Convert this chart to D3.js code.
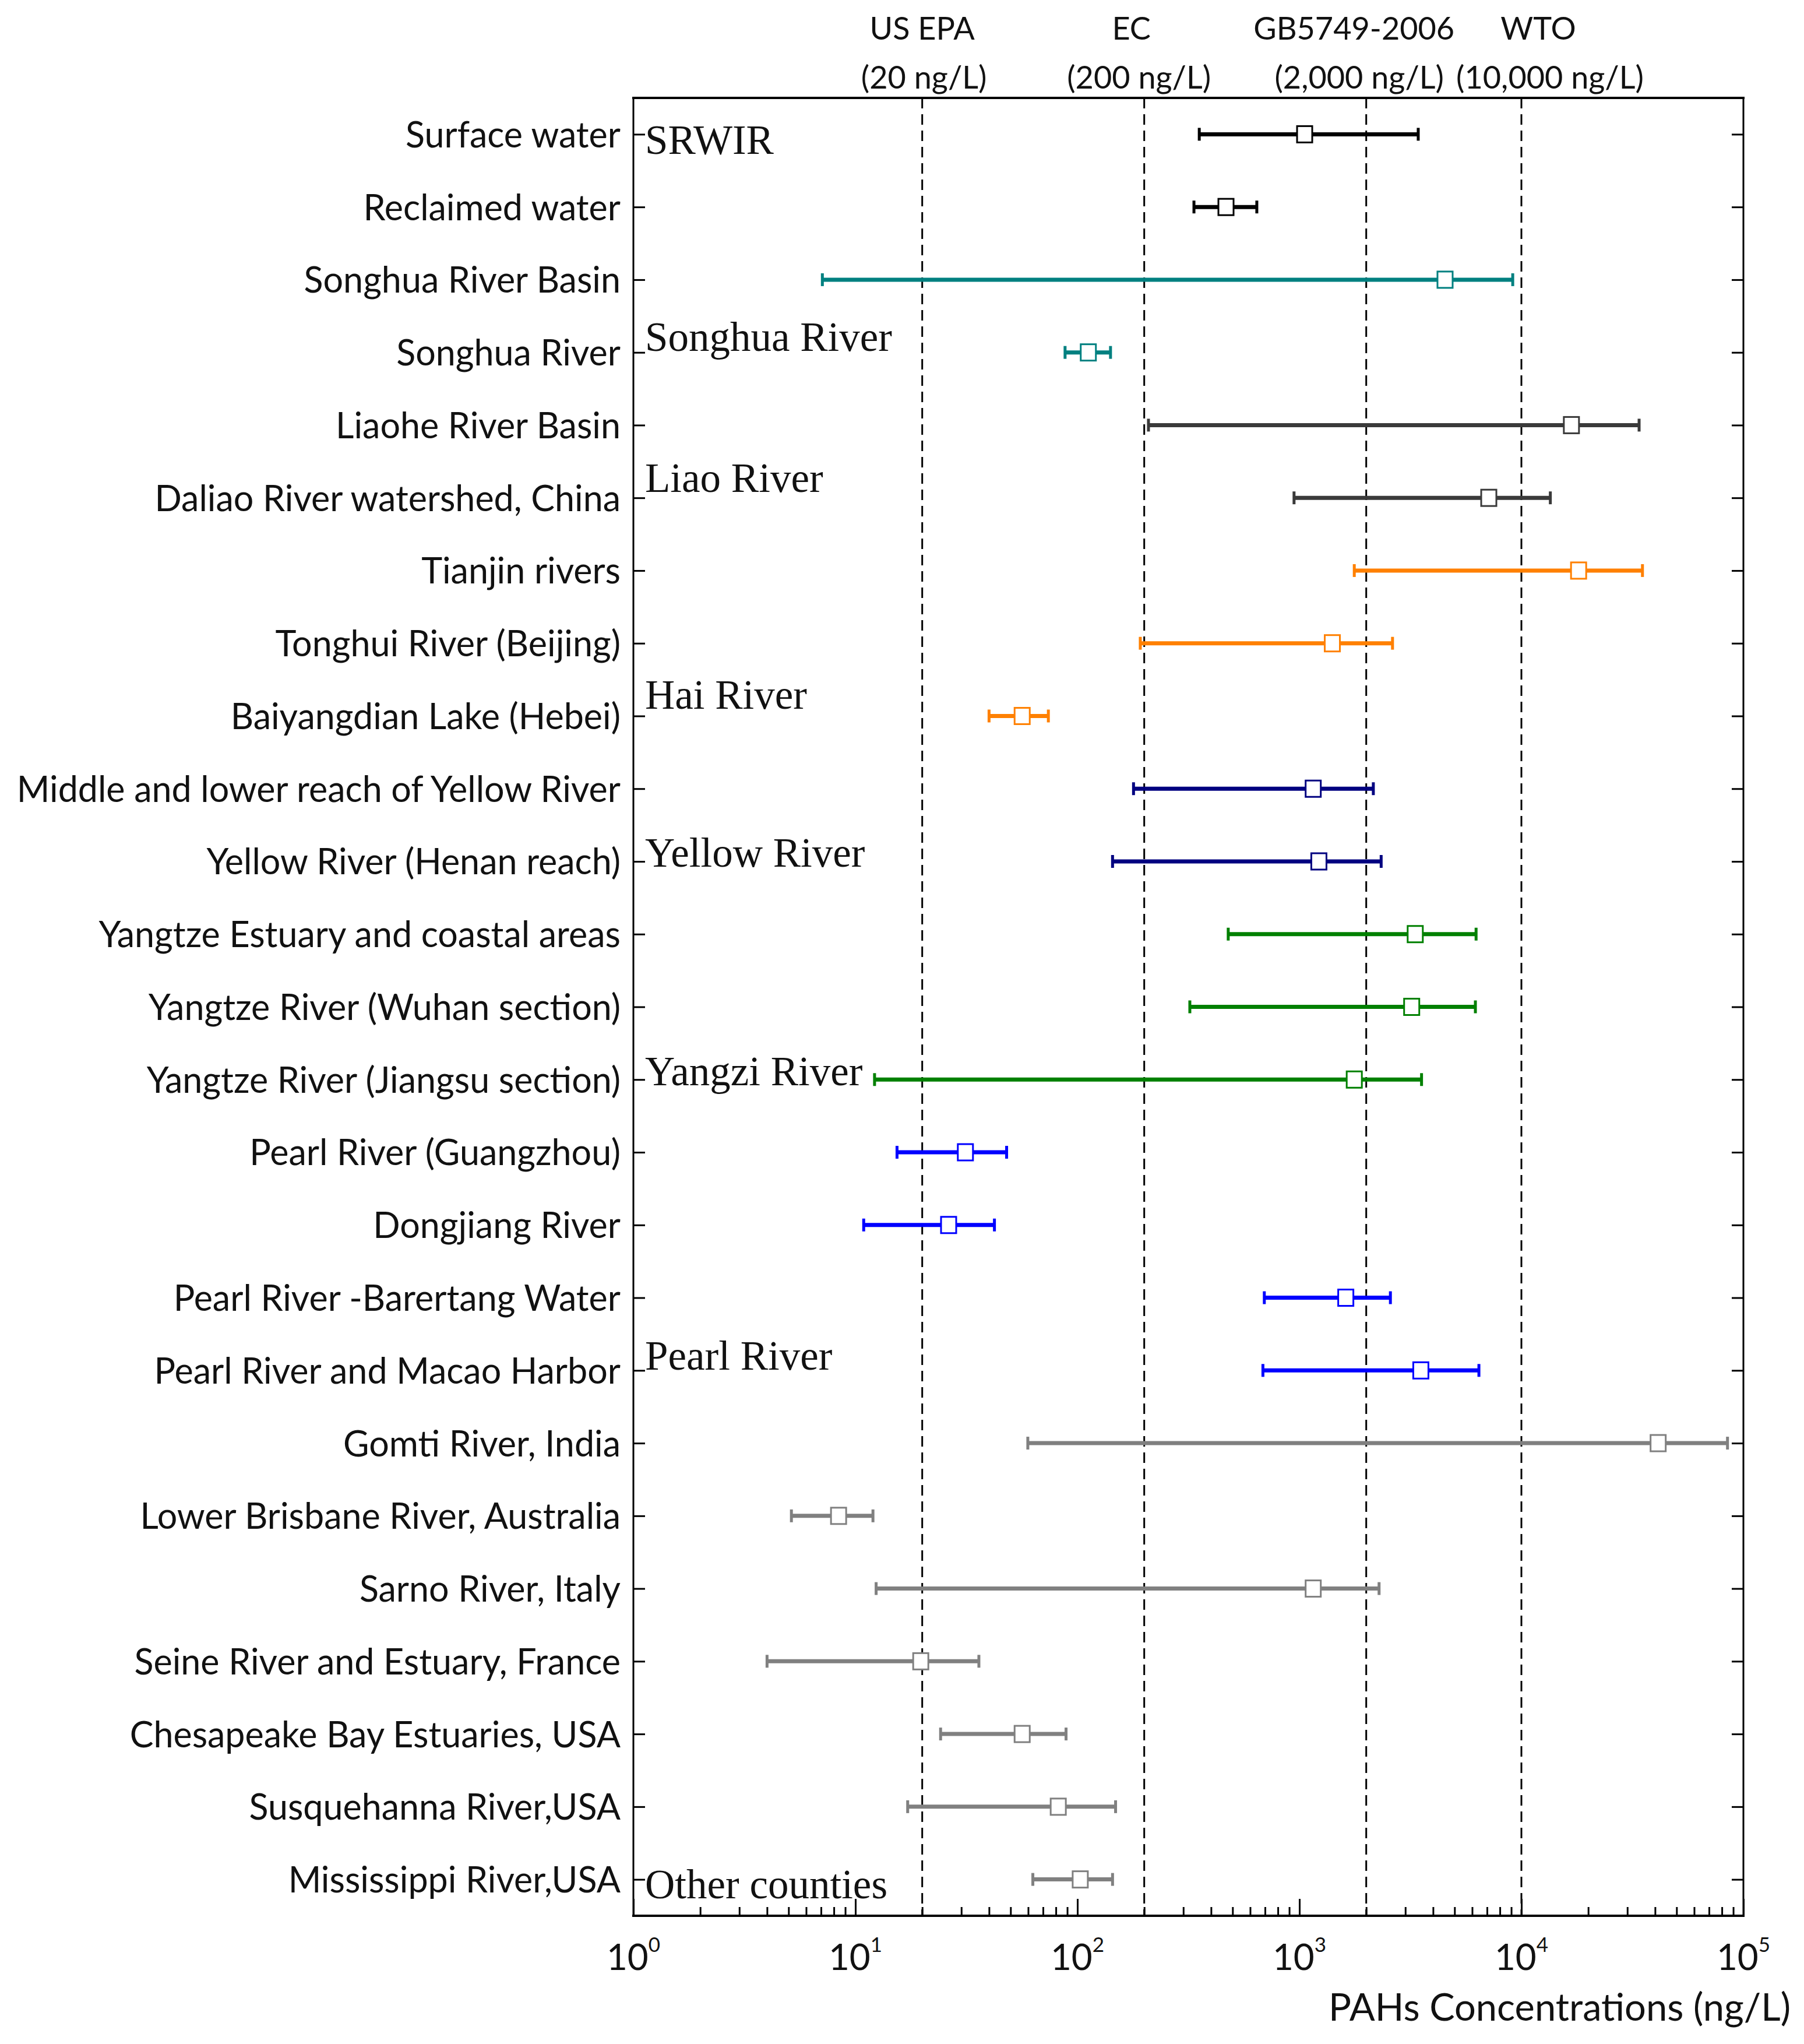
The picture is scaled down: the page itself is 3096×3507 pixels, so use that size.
<!DOCTYPE html>
<html>
<head>
<meta charset="utf-8">
<script src="https://cdn.jsdelivr.net/npm/d3@7"></script>
<style>
  html, body { margin: 0; padding: 0; background: #ffffff; }
  svg { display: block; }
</style>
</head>
<body>
<svg id="chart" width="3096" height="3507"></svg>
<script>
// ---------------- DATA ----------------
const categories = [
  "Surface water", "Reclaimed water",
  "Songhua River Basin", "Songhua River",
  "Liaohe River Basin", "Daliao River watershed, China",
  "Tianjin rivers", "Tonghui River (Beijing)", "Baiyangdian Lake (Hebei)",
  "Middle and lower reach of Yellow River", "Yellow River (Henan reach)",
  "Yangtze Estuary and coastal areas", "Yangtze River (Wuhan section)", "Yangtze River (Jiangsu section)",
  "Pearl River (Guangzhou)", "Dongjiang River", "Pearl River -Barertang Water", "Pearl River and Macao Harbor",
  "Gomti River, India", "Lower Brisbane River, Australia", "Sarno River, Italy",
  "Seine River and Estuary, France", "Chesapeake Bay Estuaries, USA", "Susquehanna River,USA",
  "Mississippi River,USA"
];
const minValues  = [354, 335, 7.1, 88, 209, 946, 1767, 192, 40, 179, 144, 478, 321, 12.2, 15.4, 10.9, 695, 685, 59.8, 5.15, 12.4, 4.0, 24.2, 17.2, 63];
const meanValues = [1056, 467, 4530, 112, 16800, 7130, 18100, 1407, 56.4, 1154, 1224, 3325, 3205, 1767, 31.3, 26.3, 1618, 3524, 41300, 8.4, 1154, 19.7, 56.4, 82, 103];
const maxValues  = [3430, 643, 9140, 141, 33900, 13500, 35100, 2627, 74, 2153, 2335, 6250, 6205, 3550, 48, 42.3, 2570, 6436, 84800, 12.0, 2285, 36, 88.9, 148.6, 144];

const groupNames  = ["SRWIR", "Songhua River", "Liao River", "Hai River", "Yellow River", "Yangzi River", "Pearl River", "Other counties"];
const groupSizes  = [2, 2, 2, 3, 2, 3, 4, 7];
const groupColors = ["#000000", "#008080", "#3a3a3a", "#ff8000", "#000080", "#008000", "#0000ff", "#808080"];
const groupLabelRows = [1.27, 3.98, 5.92, 8.9, 11.07, 14.08, 17.99, 25.26];

const standardValues = [20, 200, 2000, 10000];
const standardNames  = ["US EPA", "EC", "GB5749-2006", "WTO"];
const standardLimits = ["(20 ng/L)", "(200 ng/L)", "(2,000 ng/L)", "(10,000 ng/L)"];

const xTickExponents = [0, 1, 2, 3, 4, 5];
const xAxisTitle = "PAHs Concentrations (ng/L)";

// ---------------- LAYOUT ----------------
const W = 3096, H = 3507;
const plot = { left: 1087, right: 2992, top: 168, bottom: 3287 };
const sansFont = "Lato, 'Open Sans', sans-serif";
const serifFont = "'Liberation Serif', 'Times New Roman', serif";

const svg = d3.select("#chart");

const x = d3.scaleLog().domain([1, 1e5]).range([plot.left, plot.right]);
const y = d3.scaleLinear().domain([0.5, categories.length + 0.5]).range([plot.top, plot.bottom]);

const rows = categories.map((d, i) => i + 1);
const rowColor = [];
groupSizes.forEach((n, g) => { for (let k = 0; k < n; k++) rowColor.push(groupColors[g]); });

// ---------------- THRESHOLD LINES ----------------
svg.append("g").selectAll("line").data(standardValues).join("line")
  .attr("x1", d => x(d)).attr("x2", d => x(d))
  .attr("y1", plot.top).attr("y2", plot.bottom)
  .attr("stroke", "#000").attr("stroke-width", 3)
  .attr("stroke-dasharray", "18,10");

// header labels
const headerDx1 = [0, -22, -21, 29];
const headerDx2 = [3, -9, -12, 49];
const header = svg.append("g").attr("font-family", sansFont).attr("font-size", 54).attr("fill", "#111");
header.selectAll("text.n").data(standardNames).join("text").attr("class", "n")
  .attr("x", (d, i) => x(standardValues[i]) + headerDx1[i]).attr("y", 68)
  .attr("text-anchor", "middle").text(d => d);
header.selectAll("text.l").data(standardLimits).join("text").attr("class", "l")
  .attr("x", (d, i) => x(standardValues[i]) + headerDx2[i]).attr("y", 152)
  .attr("text-anchor", "middle").text(d => d);

// ---------------- AXES ----------------
const majorTicks = xTickExponents.map(e => Math.pow(10, e));
const minorTicks = [];
for (let e = 0; e < 5; e++) for (let m = 2; m <= 9; m++) minorTicks.push(m * Math.pow(10, e));

const gBottom = svg.append("g").attr("transform", `translate(0,${plot.bottom})`);
gBottom.call(d3.axisBottom(x).tickValues(minorTicks).tickSizeInner(-15).tickSizeOuter(0).tickFormat(""));
gBottom.call(g => g.select(".domain").remove());
const gBottomMaj = svg.append("g").attr("transform", `translate(0,${plot.bottom})`);
gBottomMaj.call(d3.axisBottom(x).tickValues(majorTicks).tickSizeInner(-29).tickSizeOuter(0).tickFormat(""));
gBottomMaj.call(g => g.select(".domain").remove());
svg.selectAll(".tick line").attr("stroke", "#000").attr("stroke-width", 3);

// left axis with category labels (ticks inward)
const gLeft = svg.append("g").attr("transform", `translate(${plot.left},0)`);
gLeft.call(d3.axisLeft(y).tickValues(rows).tickSizeInner(-20).tickSizeOuter(0).tickPadding(22)
  .tickFormat(d => categories[d - 1]));
gLeft.select(".domain").remove();
gLeft.selectAll(".tick line").attr("stroke", "#000").attr("stroke-width", 3);
gLeft.selectAll(".tick text").attr("font-family", sansFont).attr("font-size", 61).attr("fill", "#111")
  .attr("dy", "0.36em");

// right axis ticks (inward)
const gRight = svg.append("g").attr("transform", `translate(${plot.right},0)`);
gRight.call(d3.axisRight(y).tickValues(rows).tickSizeInner(-20).tickSizeOuter(0).tickFormat(""));
gRight.select(".domain").remove();
gRight.selectAll(".tick line").attr("stroke", "#000").attr("stroke-width", 3);

// frame
const frame = svg.append("g").attr("stroke", "#000").attr("stroke-linecap", "square");
frame.append("line").attr("x1", plot.left).attr("x2", plot.right).attr("y1", plot.top).attr("y2", plot.top).attr("stroke-width", 4);
frame.append("line").attr("x1", plot.left).attr("x2", plot.right).attr("y1", plot.bottom).attr("y2", plot.bottom).attr("stroke-width", 4);
frame.append("line").attr("x1", plot.left).attr("x2", plot.left).attr("y1", plot.top).attr("y2", plot.bottom).attr("stroke-width", 3);
frame.append("line").attr("x1", plot.right).attr("x2", plot.right).attr("y1", plot.top).attr("y2", plot.bottom).attr("stroke-width", 3);

// x tick labels 10^n
const xl = svg.append("g").attr("font-family", sansFont).attr("fill", "#111");
xTickExponents.forEach(e => {
  const t = xl.append("text").attr("x", x(Math.pow(10, e))).attr("y", 3380)
    .attr("text-anchor", "middle").attr("font-size", 62);
  t.append("tspan").text("10");
  t.append("tspan").attr("font-size", 35).attr("dy", -31).text(String(e));
});

// x axis title
svg.append("text").attr("x", 3073).attr("y", 3467).attr("text-anchor", "end")
  .attr("font-family", sansFont).attr("font-size", 65).attr("fill", "#111").text(xAxisTitle);

// ---------------- ERROR BARS ----------------
const bars = svg.append("g");
rows.forEach((r, i) => {
  const c = rowColor[i];
  const yy = y(r);
  bars.append("line").attr("x1", x(minValues[i])).attr("x2", x(maxValues[i]))
    .attr("y1", yy).attr("y2", yy).attr("stroke", c).attr("stroke-width", 7);
  [minValues[i], maxValues[i]].forEach(v => {
    bars.append("line").attr("x1", x(v)).attr("x2", x(v))
      .attr("y1", yy - 11).attr("y2", yy + 11).attr("stroke", c).attr("stroke-width", 5);
  });
  bars.append("rect").attr("x", x(meanValues[i]) - 13).attr("y", yy - 14)
    .attr("width", 26).attr("height", 28)
    .attr("fill", "#fff").attr("stroke", c).attr("stroke-width", 3);
});

// ---------------- GROUP LABELS ----------------
svg.append("g").selectAll("text").data(groupNames).join("text")
  .attr("x", plot.left + 20).attr("y", (d, i) => y(groupLabelRows[i]))
  .attr("font-family", serifFont).attr("font-size", 71).attr("fill", "#111")
  .text(d => d);
</script>
</body>
</html>
